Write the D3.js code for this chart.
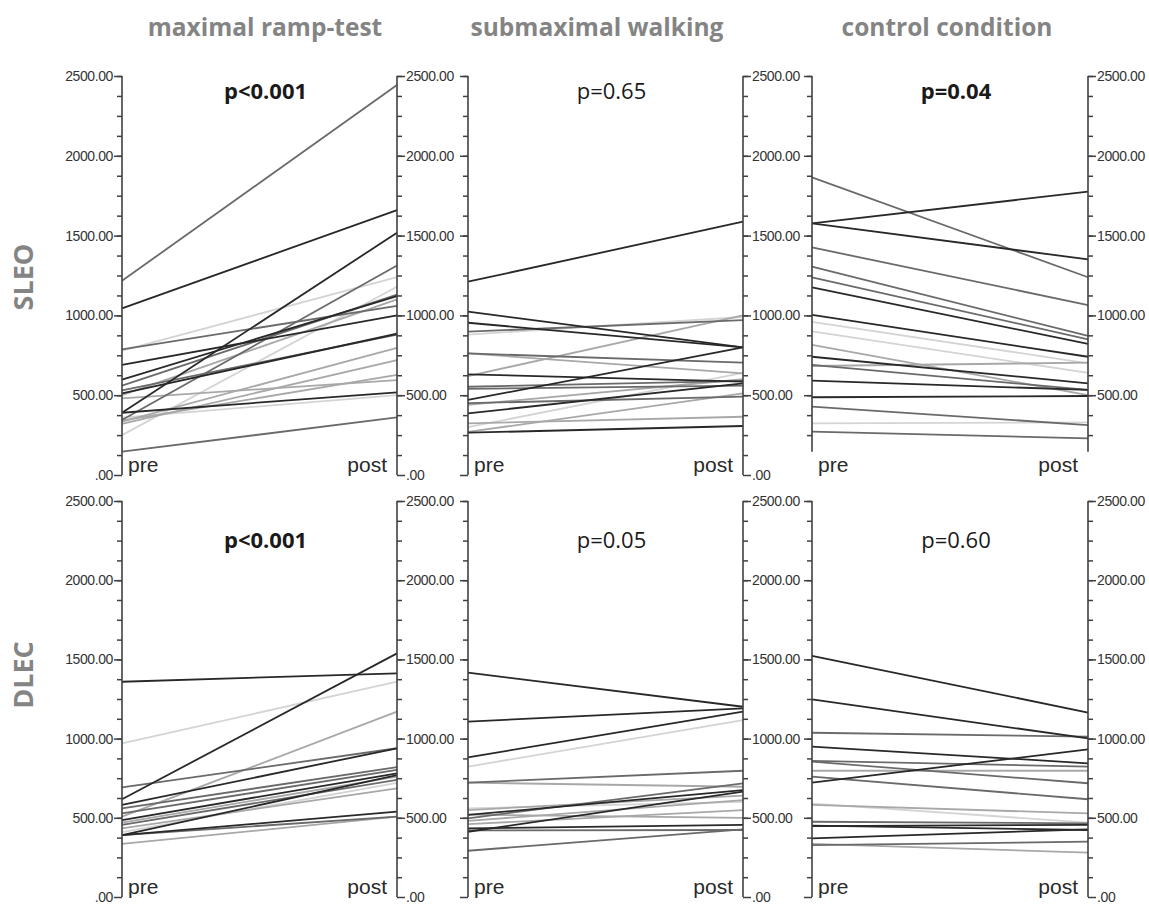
<!DOCTYPE html>
<html>
<head>
<meta charset="utf-8">
<script src="https://cdn.jsdelivr.net/npm/d3@7"></script>
<style>
  body { margin: 0; background: #fff; }
  svg { display: block; }
</style>
</head>
<body>
<div id="chart"></div>
<script>
// column titles, row labels, p values
const conditions = ["maximal ramp-test", "submaximal walking", "control condition"]
const outcomes = ["SLEO", "DLEC"]
const pValues = ["p<0.001", "p=0.65", "p=0.04", "p<0.001", "p=0.05", "p=0.60"]
const significant = [true, false, true, true, false, false]
const times = ["pre", "post"]
const majorTicks = [0, 500, 1000, 1500, 2000, 2500]
const minorTicks = [0, 125, 250, 375, 500, 625, 750, 875, 1000, 1125, 1250, 1375,
    1500, 1625, 1750, 1875, 2000, 2125, 2250, 2375, 2500]

// SLEO - maximal ramp-test
const sleoMaxPre = [1217, 1044, 390, 345, 250, 787, 690, 598, 512, 530, 500, 390, 146, 335, 320, 340, 480, 560, 780, 360]
const sleoMaxPost = [2443, 1660, 1518, 1313, 1180, 1060, 1000, 1121, 885, 880, 1100, 518, 361, 796, 720, 627, 595, 1130, 1240, 500]
const sleoMaxTone = ["mid", "dark", "dark", "mid", "faint", "mid", "dark", "dark", "dark", "mid", "light", "dark", "mid", "light", "light", "light", "light", "mid", "faint", "faint"]

// SLEO - submaximal walking
const sleoSubPre = [1211, 1023, 954, 898, 880, 762, 762, 631, 553, 620, 470, 386, 450, 324, 265, 270, 540, 300, 440]
const sleoSubPost = [1587, 800, 800, 971, 990, 704, 637, 585, 590, 1000, 800, 574, 491, 365, 307, 512, 560, 640, 600]
const sleoSubTone = ["dark", "dark", "dark", "mid", "faint", "mid", "light", "dark", "mid", "light", "dark", "dark", "mid", "light", "dark", "light", "mid", "faint", "light"]

// SLEO - control condition
const sleoConPre = [1865, 1577, 1577, 1426, 1305, 1239, 1176, 1003, 900, 815, 741, 683, 690, 591, 487, 428, 324, 272, 960]
const sleoConPost = [1239, 1775, 1351, 1065, 871, 850, 821, 741, 640, 501, 574, 704, 533, 533, 495, 313, 330, 230, 700]
const sleoConTone = ["mid", "dark", "dark", "mid", "mid", "mid", "dark", "dark", "faint", "light", "dark", "light", "mid", "dark", "dark", "mid", "faint", "mid", "faint"]

// DLEC - maximal ramp-test
const dlecMaxPre = [1359, 970, 617, 507, 692, 581, 528, 486, 455, 433, 391, 391, 391, 335, 470, 410, 560]
const dlecMaxPost = [1412, 1359, 1538, 1170, 939, 939, 802, 781, 739, 686, 539, 770, 507, 507, 760, 720, 820]
const dlecMaxTone = ["dark", "faint", "dark", "light", "mid", "dark", "mid", "dark", "mid", "light", "dark", "dark", "mid", "light", "light", "faint", "mid"]

// DLEC - submaximal walking
const dlecSubPre = [1416, 1107, 882, 823, 722, 722, 549, 518, 497, 480, 412, 433, 460, 420, 292, 520, 560]
const dlecSubPost = [1201, 1191, 1170, 1117, 797, 696, 640, 675, 718, 612, 665, 455, 549, 423, 427, 500, 600]
const dlecSubTone = ["dark", "dark", "dark", "faint", "mid", "light", "light", "dark", "mid", "light", "dark", "dark", "light", "mid", "mid", "light", "faint"]

// DLEC - control condition
const dlecConPre = [1523, 1247, 1037, 949, 854, 860, 797, 722, 760, 581, 590, 475, 448, 450, 370, 328, 335]
const dlecConPost = [1164, 1001, 1012, 844, 718, 823, 797, 932, 617, 528, 470, 465, 455, 423, 427, 349, 280]
const dlecConTone = ["dark", "dark", "mid", "dark", "mid", "mid", "light", "dark", "mid", "light", "faint", "mid", "dark", "dark", "dark", "mid", "light"]

const panels = [
    [sleoMaxPre, sleoMaxPost, sleoMaxTone],
    [sleoSubPre, sleoSubPost, sleoSubTone],
    [sleoConPre, sleoConPost, sleoConTone],
    [dlecMaxPre, dlecMaxPost, dlecMaxTone],
    [dlecSubPre, dlecSubPost, dlecSubTone],
    [dlecConPre, dlecConPost, dlecConTone]
]

const width = 1149, height = 908

// axis positions of each column / row
const cols = [{ l: 122, r: 397 }, { l: 468, r: 743 }, { l: 812, r: 1088 }]
const rows = [{ top: 76, bottom: 475 }, { top: 501, bottom: 897 }]
const titleX = [265, 597, 947]

const tones = ["faint", "light", "mid", "dark"]
const color = d3.scaleOrdinal()
    .domain(tones)
    .range(["#d4d4d4", "#a8a8a8", "#6a6a6a", "#282828"])

const fmt = d => d === 0 ? ".00" : d3.format(".2f")(d)

const svg = d3.select("#chart")
    .append("svg")
    .attr("width", width)
    .attr("height", height)

svg.append("rect").attr("width", width).attr("height", height).attr("fill", "#fff")

// column titles
svg.selectAll(".title")
    .data(conditions)
    .enter()
    .append("text")
    .attr("x", (d, i) => titleX[i])
    .attr("y", 36)
    .attr("text-anchor", "middle")
    .attr("font-family", "'Open Sans', sans-serif")
    .attr("font-weight", "bold")
    .attr("font-size", "24.5px")
    .attr("fill", "#848484")
    .text(d => d)

// row labels
svg.selectAll(".rowlabel")
    .data(outcomes)
    .enter()
    .append("text")
    .attr("transform", (d, i) => `translate(33, ${i == 0 ? 277 : 675}) rotate(-90)`)
    .attr("text-anchor", "middle")
    .attr("font-family", "'Open Sans', sans-serif")
    .attr("font-weight", "bold")
    .attr("font-size", "27px")
    .attr("fill", "#848484")
    .text(d => d)

panels.forEach(function (p, k) {
    const row = rows[Math.floor(k / 3)], col = cols[k % 3]
    const [pre, post, tone] = p

    const x = d3.scalePoint().domain(times).range([col.l, col.r])
    const y = d3.scaleLinear().domain([0, 2500]).range([row.bottom, row.top])

    // the SLEO control panel axis stops short of zero
    const axisMin = k == 2 ? 145 : 0
    const g = svg.append("g")

    // lines, lighter ones first
    const subjects = d3.range(pre.length)
        .sort((a, b) => tones.indexOf(tone[a]) - tones.indexOf(tone[b]))

    g.selectAll("line.subject")
        .data(subjects)
        .enter()
        .append("line")
        .attr("class", "subject")
        .attr("x1", x("pre"))
        .attr("x2", x("post"))
        .attr("y1", i => y(pre[i]))
        .attr("y2", i => y(post[i]))
        .attr("stroke", i => color(tone[i]))
        .attr("stroke-width", 1.8)

    // axes: minor and major ticks on both sides
    const sides = [
        { pos: col.l, axis: d3.axisLeft, labels: k % 3 == 0 },
        { pos: col.r, axis: d3.axisRight, labels: true }
    ]
    sides.forEach(function (s) {
        const minor = g.append("g")
            .attr("transform", `translate(${s.pos},0)`)
            .call(s.axis(y).tickValues(minorTicks.filter(t => t >= axisMin + 50)).tickSize(5).tickSizeOuter(0).tickFormat(""))
        minor.select(".domain").remove()

        const major = g.append("g")
            .attr("transform", `translate(${s.pos},0)`)
            .call(s.axis(y).tickValues(majorTicks.filter(t => t >= axisMin)).tickSize(8).tickSizeOuter(0)
                .tickPadding(1).tickFormat(s.labels ? fmt : ""))
        major.select(".domain").remove()

        g.append("line")
            .attr("x1", s.pos).attr("x2", s.pos)
            .attr("y1", y(axisMin)).attr("y2", y(2500))
            .attr("stroke", "#404040")
            .attr("stroke-width", 1.6)

        g.selectAll(".tick line").attr("stroke", "#404040").attr("stroke-width", 1.5)
        g.selectAll(".tick text")
            .attr("font-family", "'Liberation Sans', Arial, sans-serif")
            .attr("font-size", "14px")
            .attr("fill", "#333")
            .attr("letter-spacing", "-0.4px")
    })

    // pre / post labels
    g.append("text")
        .attr("x", x("pre") + 6)
        .attr("y", row.bottom - 3)
        .attr("font-family", "'Liberation Sans', Arial, sans-serif")
        .attr("font-size", "21px")
        .attr("fill", "#2a2a2a")
        .text("pre")
    g.append("text")
        .attr("x", x("post") - 10)
        .attr("y", row.bottom - 3)
        .attr("text-anchor", "end")
        .attr("font-family", "'Liberation Sans', Arial, sans-serif")
        .attr("font-size", "21px")
        .attr("fill", "#2a2a2a")
        .text("post")

    // p value
    g.append("text")
        .attr("x", (col.l + col.r) / 2 + 6)
        .attr("y", row.top + (k < 3 ? 23 : 47))
        .attr("text-anchor", "middle")
        .attr("font-family", "'Open Sans', sans-serif")
        .attr("font-size", "22px")
        .attr("font-weight", significant[k] ? "bold" : "normal")
        .attr("fill", "#1a1a1a")
        .text(pValues[k])
})
</script>
</body>
</html>
